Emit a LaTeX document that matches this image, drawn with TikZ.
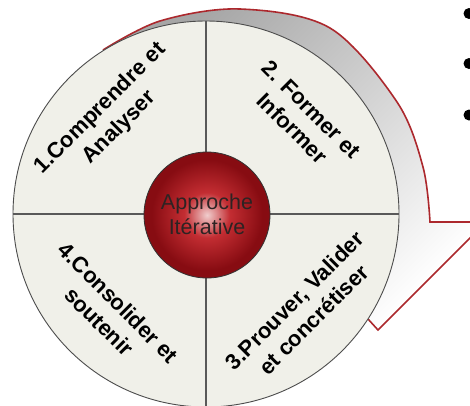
\documentclass[tikz,border=0pt]{standalone}
\usepackage{fontspec}
\setmainfont{Liberation Sans}
\definecolor{discfill}{RGB}{240,240,233}
\definecolor{rimred}{RGB}{172,40,45}
\definecolor{spherelight}{RGB}{240,205,205}
\definecolor{spheremid}{RGB}{195,45,50}
\definecolor{spheredark}{RGB}{135,12,18}
\definecolor{centertext}{RGB}{45,35,35}
\pgfdeclareradialshading{redsphere}{\pgfpoint{0bp}{0bp}}{%
  color(0bp)=(spherelight); color(9bp)=(spheremid); color(22bp)=(spheredark); color(25bp)=(spheredark); color(50bp)=(spheredark)}
\begin{document}
\begin{tikzpicture}[x=1pt,y=-1pt,
  seglabel/.style={font=\fontsize{22}{27}\selectfont\bfseries, align=center, text=black, inner sep=0pt},
  divider/.style={draw=black!65, line width=1.2pt},
  rim/.style={draw=rimred, line width=1.6pt, line join=miter},
  bulletdot/.style={fill=black}]
\useasboundingbox (0,0) rectangle (470,405);
\clip (0,0) rectangle (470,405);
\fill[white] (0,0) rectangle (470,405);
% callout shape behind the disc
\path[top color=black!35, bottom color=white, shading angle=45]
  plot[smooth, tension=0.55] coordinates {(103,50) (160,21) (240,9) (330,28) (397,102) (423,167) (430,222)}
  -- (486,222) -- (378,330) -- (368,319) -- (206,214) -- cycle;
\draw[rim]
  plot[smooth, tension=0.55] coordinates {(103,50) (160,21) (240,9) (330,28) (397,102) (423,167) (430,222)}
  -- (486,222) -- (378,330) -- (368,319);
% main disc
\node[circle, minimum size=386pt, fill=discfill, draw=black!70, line width=0.9pt, inner sep=0pt] (disc) at (206,214) {};
\draw[divider] (disc.north) -- (disc.south);
\draw[divider] (disc.west) -- (disc.east);
% sphere
\node[circle, minimum size=126pt, shading=redsphere, draw=black!80, line width=0.8pt, inner sep=0pt] (sphere) at (207,215) {};
\node[font=\fontsize{21.5}{25}\selectfont, text=centertext, align=center, inner sep=0pt] (centre) at (207,214) {Approche\\Itérative};
% quadrant labels
\node[seglabel, rotate=45] (q1) at (110,118) {1.Comprendre et\\Analyser};
\node[seglabel, rotate=-45] (q2) at (302,119) {2. Former et\\Informer};
\node[seglabel, rotate=45] (q3) at (304,310) {3.Prouver, Valider\\et concrétiser};
\node[seglabel, rotate=-45] (q4) at (109,312) {4.Consolider et\\soutenir};
% bullets at right edge
\fill[bulletdot] (469,13.5) circle (5.5);
\fill[bulletdot] (469,63.5) circle (5.5);
\fill[bulletdot] (469,115) circle (5.5);
\end{tikzpicture}
\end{document}
